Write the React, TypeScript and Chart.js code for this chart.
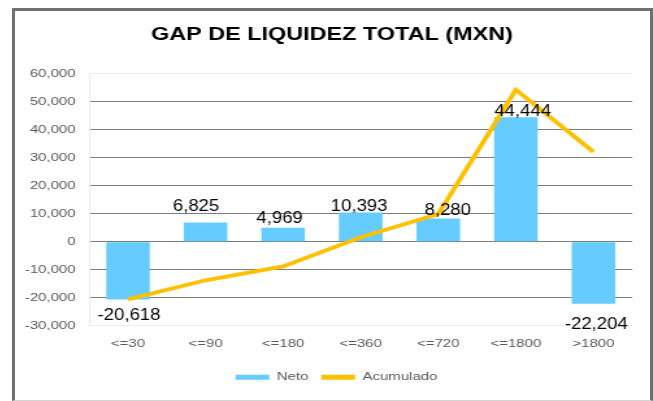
import { useEffect, useRef } from 'react';
import { Chart, registerables } from 'chart.js';

Chart.register(...registerables);

const FONT = '"Liberation Sans", Arial, Helvetica, sans-serif';

// ---- data ----
const categories = ['<=30', '<=90', '<=180', '<=360', '<=720', '<=1800', '>1800'];
const neto = [-20618, 6825, 4969, 10393, 8280, 44444, -22204];
const acumulado = [-20618, -13793, -8824, 1569, 9849, 54293, 32089];
const seriesNames = ['Neto', 'Acumulado'];
const yMin = -30000;
const yMax = 60000;
const yStep = 10000;
const titleText = 'GAP DE LIQUIDEZ TOTAL (MXN)';

// ---- label nudges (px, relative to bar end) ----
const labelNudgeX = [0.8, -7.3, -2.7, -1.2, 7.3, 5.2, 2.2];
const labelNudgeY = [16.1, -16.3, -9.5, -5.9, -8.5, -5.6, 20.1];

// ---- layout (internal canvas px; canvas is stretched horizontally by CSS) ----
const CANVAS_W = 488;
const CANVAS_H = 389;
const CSS_W = 634;
const LABEL_SQUEEZE = 0.84;
const LEGEND_SHIFT = 3.4;

const fmt = (v: number) => v.toLocaleString('en-US');

const valueLabels = {
  id: 'valueLabels',
  afterDatasetsDraw(chart: any) {
    const meta = chart.getDatasetMeta(0);
    const ctx = chart.ctx as CanvasRenderingContext2D;
    ctx.save();
    ctx.font = `17px ${FONT}`;
    ctx.fillStyle = '#000000';
    ctx.textAlign = 'center';
    ctx.textBaseline = 'middle';
    meta.data.forEach((bar: any, i: number) => {
      const { x, y } = bar.getProps(['x', 'y'], true);
      ctx.save();
      ctx.translate(x + labelNudgeX[i], y + labelNudgeY[i]);
      ctx.scale(LABEL_SQUEEZE, 1);
      ctx.fillText(fmt(neto[i]), 0, 0);
      ctx.restore();
    });
    ctx.restore();
  },
};

const legendShift = {
  id: 'legendShift',
  afterLayout(chart: any) {
    const l = chart.legend;
    if (l) {
      l.left += LEGEND_SHIFT;
      l.right += LEGEND_SHIFT;
    }
  },
};

export default function App() {
  const ref = useRef<HTMLCanvasElement>(null);

  useEffect(() => {
    const canvas = ref.current!;
    const chart = new Chart(canvas, {
      type: 'bar',
      data: {
        labels: categories,
        datasets: [
          {
            type: 'bar',
            label: seriesNames[0],
            data: neto,
            backgroundColor: '#66CCFF',
            borderWidth: 0,
            barPercentage: 0.562,
            categoryPercentage: 1,
            order: 1,
          },
          {
            type: 'line',
            label: seriesNames[1],
            data: acumulado,
            borderColor: '#FFC000',
            backgroundColor: '#FFC000',
            borderWidth: 3.8,
            pointRadius: 0,
            pointHoverRadius: 0,
            tension: 0,
            fill: false,
            order: 0,
          } as any,
        ],
      },
      options: {
        responsive: false,
        maintainAspectRatio: false,
        animation: false,
        devicePixelRatio: 1,
        layout: { padding: { top: 0, left: 0, right: 0, bottom: 7 } },
        scales: {
          x: {
            type: 'category',
            offset: true,
            grid: {
              display: true,
              drawTicks: false,
              offset: true,
              color: (c: any) =>
                c.index === 0 || c.index === categories.length ? '#ececec' : 'rgba(0,0,0,0)',
            },
            border: { display: false },
            ticks: {
              color: '#595959',
              font: { family: FONT, size: 11.5 },
              padding: 11,
              maxRotation: 0,
              autoSkip: false,
            },
            afterFit: (s: any) => {
              s.height = 35.85;
            },
          },
          y: {
            min: yMin,
            max: yMax,
            grid: {
              drawTicks: false,
              color: (c: any) =>
                c.tick && (c.tick.value === yMax || c.tick.value === yMin) ? '#ececec' : '#7c7c7c',
            },
            border: { display: true, color: '#ececec' },
            ticks: {
              stepSize: yStep,
              color: '#595959',
              font: { family: FONT, size: 11.5 },
              padding: 10.5,
              callback: (v: any) => fmt(Number(v)),
            },
            afterFit: (s: any) => {
              s.width = 57.1;
            },
          },
          y2: {
            axis: 'y',
            position: 'right',
            display: true,
            grid: { display: false, drawTicks: false },
            border: { display: false },
            ticks: { display: false },
            afterFit: (s: any) => {
              s.width = 12.9;
            },
          } as any,
        },
        plugins: {
          title: {
            display: true,
            text: titleText,
            color: '#000000',
            font: { family: FONT, size: 18, weight: 'bold' },
            padding: { top: 13, bottom: 28.1 },
          },
          legend: {
            position: 'bottom',
            labels: {
              boxWidth: 26,
              boxHeight: 5,
              padding: 10,
              color: '#595959',
              font: { family: FONT, size: 11.5 },
              generateLabels: (ch: any) =>
                Chart.defaults.plugins.legend.labels
                  .generateLabels(ch)
                  .map((l: any) => ({ ...l, lineWidth: 0 })),
              sort: (a: any, b: any) => a.datasetIndex - b.datasetIndex,
            },
          },
          tooltip: { enabled: false },
        },
      },
      plugins: [valueLabels, legendShift],
    });
    return () => chart.destroy();
  }, []);

  return (
    <div
      style={{
        position: 'absolute',
        left: 0,
        top: 0,
        width: 653,
        height: 401,
        background: '#ffffff',
        overflow: 'hidden',
      }}
    >
      <div
        style={{
          position: 'absolute',
          left: 12,
          top: 8,
          width: 641,
          height: 393,
          boxSizing: 'border-box',
          borderLeft: '3px solid #707070',
          borderTop: '3px solid #707070',
          borderRight: '3px solid #707070',
          borderBottom: '1px solid #d4d4d4',
        }}
      />
      <canvas
        ref={ref}
        width={CANVAS_W}
        height={CANVAS_H}
        style={{ position: 'absolute', left: 15, top: 11, width: CSS_W, height: CANVAS_H }}
      />
    </div>
  );
}
